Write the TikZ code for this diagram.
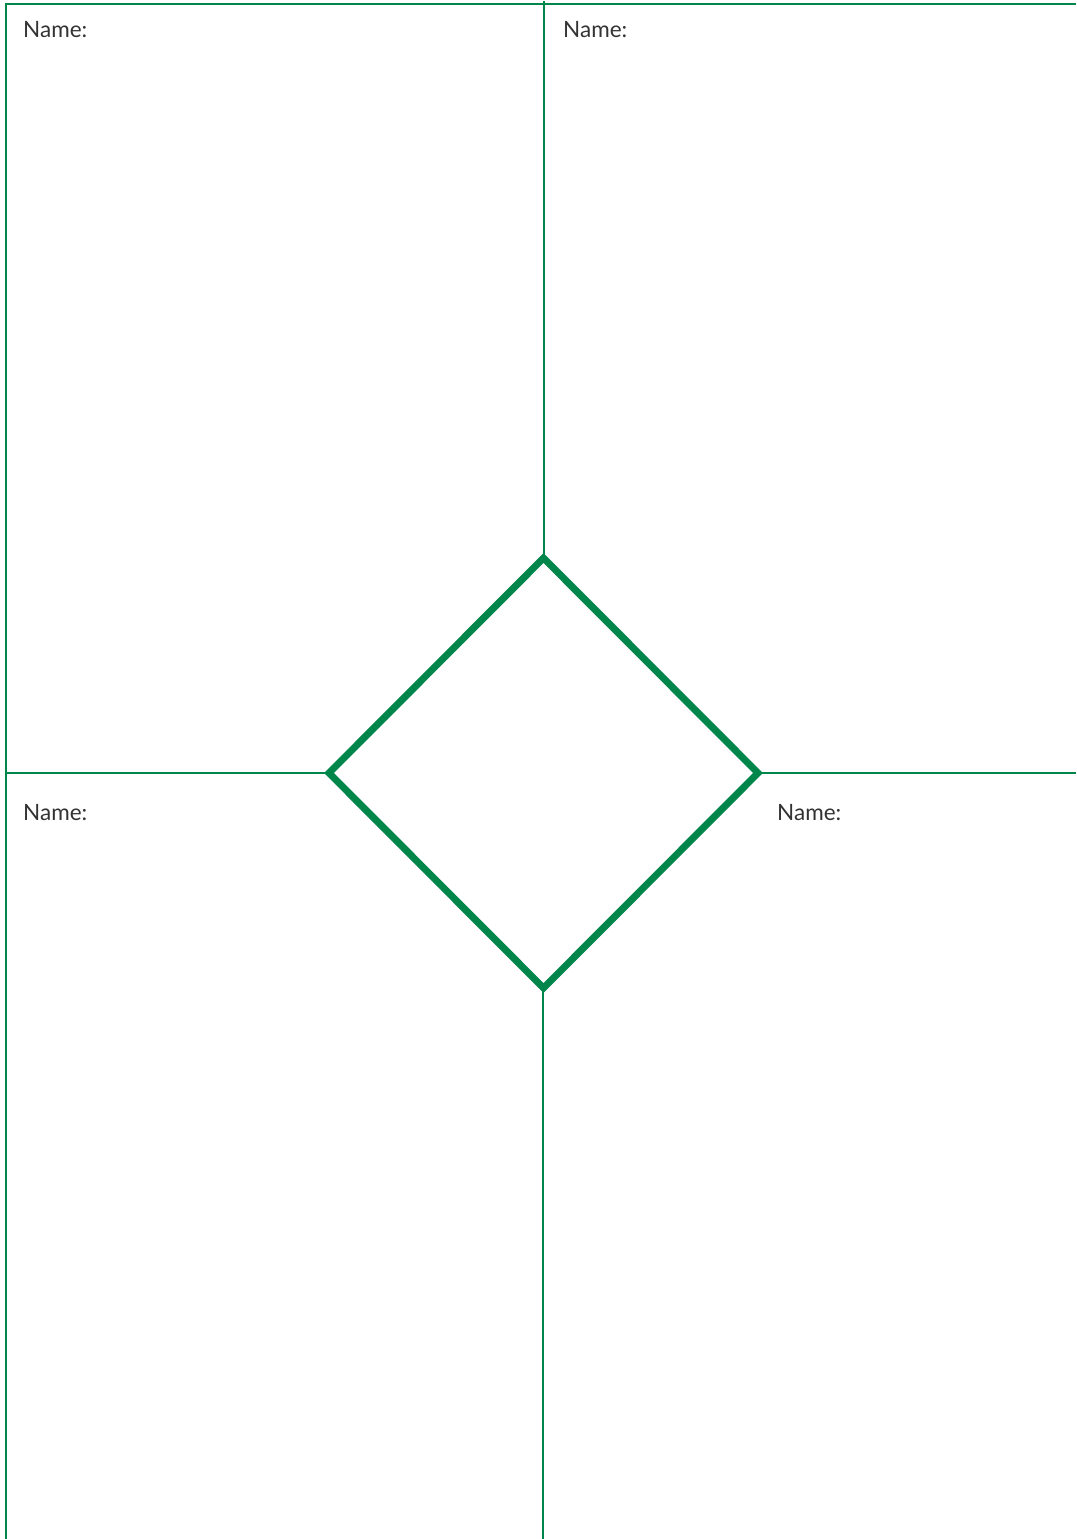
\documentclass[tikz,border=0pt]{standalone}
\usepackage{fontspec}
\setmainfont{Lato}
\definecolor{frame}{HTML}{00854A}
\definecolor{txt}{HTML}{333333}
\begin{document}
\begin{tikzpicture}[x=1pt,y=-1pt,
  thin line/.style={draw=frame,line width=1.2pt},
  thick line/.style={draw=frame,line width=7pt,miter limit=10},
  label/.style={anchor=base west,inner sep=0pt,text=txt,font=\fontsize{22.5}{26}\selectfont}]
\useasboundingbox (0,0) rectangle (1076,1539);
% corners of the diamond
\coordinate (dt) at (543.5,558);
\coordinate (dl) at (329,773);
\coordinate (dr) at (758,773);
\coordinate (db) at (543.5,988);
% frame points
\coordinate (tl) at (6,4);
\coordinate (tr) at (1076,4);
\coordinate (bl) at (6,1539);
\coordinate (mt) at (544,1);
\coordinate (mb) at (543,1539);
\coordinate (mtd) at (544,558);
\coordinate (mbd) at (543,988);
\coordinate (ml) at (6,773);
\coordinate (mr) at (1076,773);
\draw[thin line] (tr) -- (tl) -- (bl);
\draw[thin line] (mt) -- (mtd);
\draw[thin line] (mbd) -- (mb);
\draw[thin line] (ml) -- (dl);
\draw[thin line] (dr) -- (mr);
\draw[thick line] (dt) -- (dr) -- (db) -- (dl) -- cycle;
\node[label] (n1) at (23,37.5) {Name:};
\node[label] (n2) at (563,37.5) {Name:};
\node[label] (n3) at (23,820.5) {Name:};
\node[label] (n4) at (777,820.5) {Name:};
\end{tikzpicture}
\end{document}
